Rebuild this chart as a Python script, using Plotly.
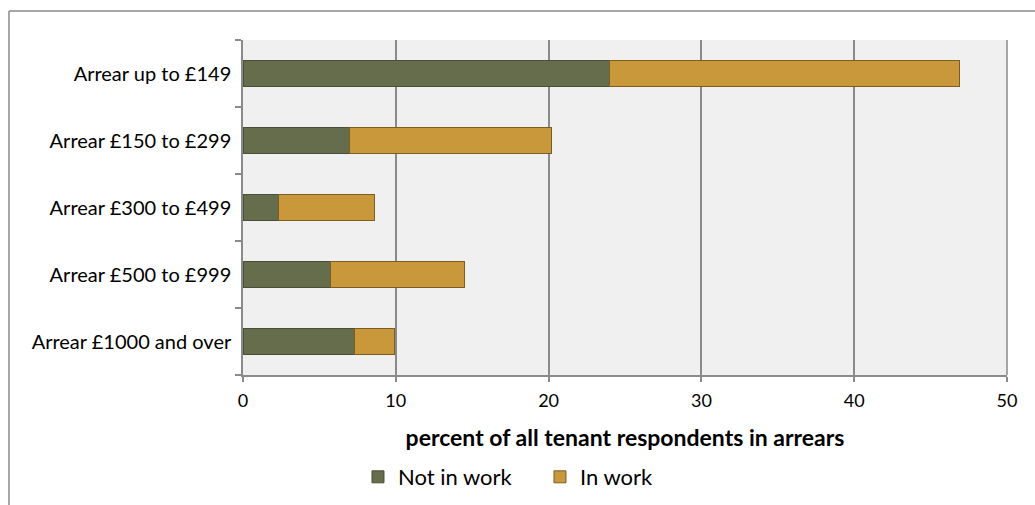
import plotly.graph_objects as go

# Arrears bands, top to bottom
categories = [
    "Arrear up to £149",
    "Arrear £150 to £299",
    "Arrear £300 to £499",
    "Arrear £500 to £999",
    "Arrear £1000 and over",
]
not_in_work = [24.0, 7.0, 2.3, 5.7, 7.3]
in_work = [22.9, 13.2, 6.3, 8.8, 2.6]
x_ticks = [0, 10, 20, 30, 40, 50]

FONT = "Lato"
GREEN = "#666d4c"
GOLD = "#c8983b"
AXIS_GREY = "#8a8a8a"

fig = go.Figure()
fig.add_trace(go.Bar(
    y=categories, x=not_in_work, orientation="h", name="Not in work",
    marker=dict(color=GREEN, line=dict(color="#4a4f36", width=1)),
))
fig.add_trace(go.Bar(
    y=categories, x=in_work, orientation="h", name="In work",
    marker=dict(color=GOLD, line=dict(color="#7d5e22", width=1)),
))

fig.update_layout(
    barmode="stack",
    bargap=0.6,
    width=1035, height=505,
    margin=dict(l=243, r=28, t=40, b=130, autoexpand=False),
    paper_bgcolor="white",
    plot_bgcolor="#f0f0f0",
    font=dict(family=FONT, size=18, color="#000000"),
    showlegend=True,
    legend=dict(
        orientation="h", x=0.1505, xanchor="left", y=-0.3045, yanchor="middle",
        font=dict(family=FONT, size=22), traceorder="normal",
        itemwidth=30, entrywidthmode="pixels", entrywidth=137,
        bgcolor="rgba(0,0,0,0)",
    ),
    xaxis=dict(
        range=[0, 50], tickvals=x_ticks, ticktext=[str(v) for v in x_ticks],
        showgrid=True, gridcolor=AXIS_GREY, gridwidth=1.5,
        zeroline=False, showline=True, linecolor=AXIS_GREY, linewidth=1.5,
        ticks="outside", ticklen=5, tickcolor=AXIS_GREY, tickwidth=1.5,
        tickfont=dict(family=FONT, size=18), ticklabelstandoff=4,
        title=dict(text="<b>percent of all tenant respondents in arrears</b>",
                   font=dict(family=FONT, size=23), standoff=20),
        automargin=False,
    ),
    yaxis=dict(
        type="category", categoryorder="array", categoryarray=categories[::-1],
        showgrid=False, showline=True, linecolor=AXIS_GREY, linewidth=1.5,
        ticks="outside", ticklen=6, tickcolor=AXIS_GREY, tickwidth=1.5,
        tickson="boundaries", ticklabelstandoff=6,
        tickfont=dict(family=FONT, size=20),
        automargin=False,
    ),
    shapes=[
        # outer chart frame: top and left edges
        dict(type="line", xref="paper", yref="paper", x0=-0.3063, x1=1.04,
             y0=1.0866, y1=1.0866, line=dict(color=AXIS_GREY, width=1.5)),
        dict(type="line", xref="paper", yref="paper", x0=-0.3063, x1=-0.3063,
             y0=1.0866, y1=-0.41, line=dict(color=AXIS_GREY, width=1.5)),
        # right-hand edge of the plot area
        dict(type="line", xref="paper", yref="paper", x0=1, x1=1, y0=0, y1=1,
             line=dict(color=AXIS_GREY, width=1.5)),
    ],
)

fig.write_html("out.html")
